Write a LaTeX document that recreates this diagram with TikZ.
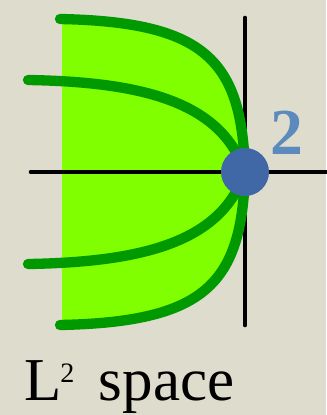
\documentclass[tikz,border=0pt]{standalone}
\usepackage{fontspec}
\setmainfont{Liberation Serif}
\definecolor{paper}{RGB}{222,220,204}
\definecolor{leaf}{RGB}{128,255,0}
\definecolor{leafdark}{RGB}{0,153,0}
\definecolor{dotblue}{RGB}{64,104,166}
\definecolor{numblue}{RGB}{92,138,188}
\begin{document}
\begin{tikzpicture}[x=0.03cm, y=-0.03cm,
  axis/.style={line width=4pt, black, line cap=round},
  curve/.style={line width=8.8pt, leafdark, line cap=round},
  label/.style={font=\fontsize{52}{60}\selectfont, inner sep=0pt}]
  % background paper
  \fill[paper] (0,0) rectangle (326,415);
  \useasboundingbox (0,0) rectangle (326,415);
  \coordinate (o) at (245,172);
  % filled region between the outer curves
  \fill[leaf] (62,19) .. controls (205,22) and (242,60) .. (o)
    .. controls (242,284) and (205,322) .. (62,325) -- cycle;
  % axes
  \draw[axis] (31,172) -- (330,172);
  \draw[axis] (245,18) -- (245,325);
  % curves
  \draw[curve] (60,19) .. controls (205,22) and (242,60) .. (o);
  \draw[curve] (28,80) .. controls (150,82) and (222,105) .. (o);
  \draw[curve] (28,264) .. controls (150,262) and (222,239) .. (o);
  \draw[curve] (60,325) .. controls (205,322) and (242,284) .. (o);
  % point and labels
  \node[circle, fill=dotblue, minimum size=1.44cm, inner sep=0pt] (dot) at (o) {};
  \node[font=\fontsize{56}{60}\selectfont\bfseries, numblue, inner sep=0pt] (two) at (287,133) {2};
  \node[label, anchor=base west] (name) at (24,400)
    {L\kern-1pt\raisebox{15pt}{\fontsize{24}{24}\selectfont 2}\hspace{21pt}space};
\end{tikzpicture}
\end{document}
